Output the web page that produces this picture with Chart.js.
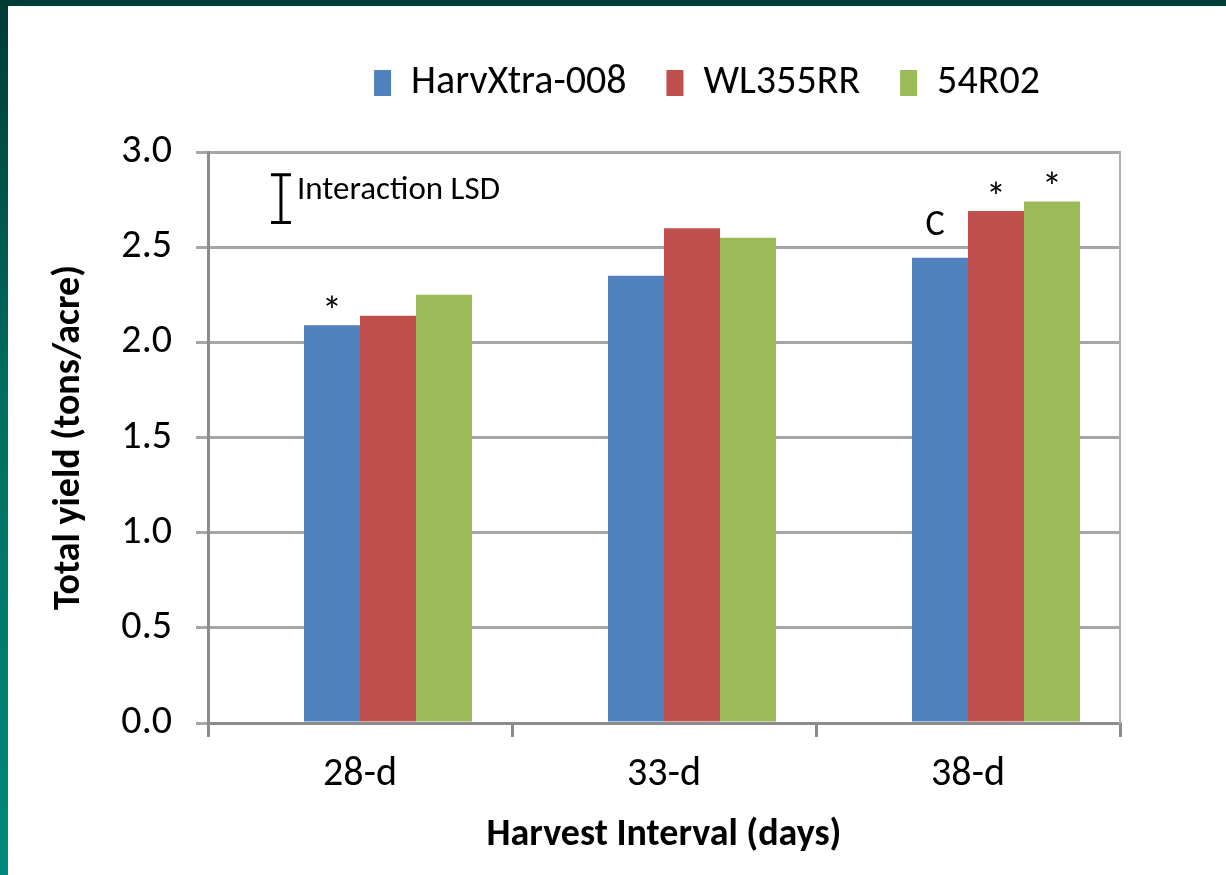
<!DOCTYPE html>
<html>
<head>
<meta charset="utf-8">
<script src="https://cdn.jsdelivr.net/npm/chart.js@4.4.1/dist/chart.umd.min.js"></script>
<style>
  html, body { margin: 0; padding: 0; background: #ffffff; overflow: hidden; }
  #wrap { position: relative; width: 1226px; height: 875px; }
  #topband { position: absolute; left: 0; top: 0; width: 1226px; height: 6px; background: #003b35; }
  #leftband { position: absolute; left: 0; top: 0; width: 8px; height: 875px; background: linear-gradient(to bottom, #003b35 0%, #006d61 45%, #008a7b 100%); }
</style>
</head>
<body>
<div id="wrap">
  <canvas id="c" width="1226" height="875"></canvas>
  <div id="topband"></div>
  <div id="leftband"></div>
</div>
<script>
// ---- data ----
const categories = ['28-d', '33-d', '38-d'];
const seriesNames = ['HarvXtra-008', 'WL355RR', '54R02'];
const emptySeries = [null, null, null];
const harvXtra = [2.09, 2.35, 2.445];
const wl355rr = [2.14, 2.60, 2.69];
const r54r02 = [2.25, 2.55, 2.74];
const harvXtraMarks = ['*', '', 'C'];
const wl355rrMarks = ['', '', '*'];
const r54r02Marks = ['', '', '*'];
const yTicks = [0, 0.5, 1.0, 1.5, 2.0, 2.5, 3.0];
const lsdValue = 0.25;
const lsdTop = 2.88;
const lsdCategoryPos = -0.26;
const lsdLabel = 'Interaction LSD';
const yTitle = 'Total yield (tons/acre)';
const xTitle = 'Harvest Interval (days)';

const FONT = "Carlito, Calibri, Lato, sans-serif";
const colors = ['#4f81bd', '#c0504d', '#9bbb59'];
const marks = [harvXtraMarks, wl355rrMarks, r54r02Marks];

const annotationPlugin = {
  id: 'annot',
  afterDatasetsDraw(chart) {
    const ctx = chart.ctx;
    const y = chart.scales.y, x = chart.scales.x;
    ctx.save();
    ctx.fillStyle = '#000';
    ctx.textAlign = 'center';
    ctx.textBaseline = 'alphabetic';
    marks.forEach((arr, si) => {
      const meta = chart.getDatasetMeta(si + 1);
      arr.forEach((txt, i) => {
        if (!txt) return;
        const bar = meta.data[i];
        const star = txt === '*';
        ctx.font = (star ? '40px ' : '36px ') + FONT;
        ctx.fillText(txt, bar.x + (star ? 0 : -5), bar.y - (star ? 0 : 23));
      });
    });
    // LSD bar
    const lx = x.getPixelForValue(lsdCategoryPos);
    const yt = y.getPixelForValue(lsdTop);
    const yb = y.getPixelForValue(lsdTop - lsdValue);
    ctx.strokeStyle = '#000';
    ctx.lineWidth = 3;
    ctx.beginPath();
    ctx.moveTo(lx, yt); ctx.lineTo(lx, yb);
    ctx.moveTo(lx - 10, yt); ctx.lineTo(lx + 10, yt);
    ctx.moveTo(lx - 10, yb); ctx.lineTo(lx + 10, yb);
    ctx.stroke();
    ctx.textAlign = 'left';
    ctx.textBaseline = 'alphabetic';
    ctx.font = '33px ' + FONT;
    ctx.fillText(lsdLabel, lx + 16, yt + 24);
    ctx.restore();
  }
};

const legendPlugin = {
  id: 'legendPlace',
  beforeInit(chart) {
    const orig = chart.legend.fit;
    chart.legend.fit = function() {
      orig.call(this);
      this.height = 152 - 23;
    };
  },
  afterLayout(chart) {
    chart.legend.left += 94;
    chart.legend.right += 94;
  }
};

new Chart(document.getElementById('c'), {
  type: 'bar',
  data: {
    labels: categories,
    datasets: [
      { label: '', data: emptySeries, backgroundColor: 'rgba(0,0,0,0)' },
      { label: seriesNames[0], data: harvXtra, backgroundColor: colors[0] },
      { label: seriesNames[1], data: wl355rr, backgroundColor: colors[1] },
      { label: seriesNames[2], data: r54r02, backgroundColor: colors[2] }
    ]
  },
  options: {
    responsive: false,
    animation: false,
    devicePixelRatio: 1,
    layout: { padding: { left: 0, right: 0, top: 23, bottom: 0 } },
    datasets: { bar: { categoryPercentage: 0.737, barPercentage: 1.0 } },
    plugins: {
      legend: {
        position: 'top',
        align: 'center',
        labels: {
          boxWidth: 17, boxHeight: 26, padding: 40,
          color: '#000',
          font: { family: FONT, size: 40 },
          filter: item => item.text !== ''
        }
      },
      tooltip: { enabled: false }
    },
    scales: {
      x: {
        grid: { offset: true, drawOnChartArea: false, drawTicks: true, tickLength: 14, tickColor: '#8c8c8c', lineWidth: 3 },
        border: { display: true, color: '#8c8c8c', width: 3 },
        ticks: { color: '#000', padding: 14, font: { family: FONT, size: 40 } },
        title: { display: true, text: xTitle, color: '#000', font: { family: FONT, size: 38, weight: 'bold' }, padding: { top: 0, bottom: 17 } },
        afterFit(s) { s.height = 875 - 723; }
      },
      y: {
        min: 0, max: 3,
        afterBuildTicks(s) { s.ticks = yTicks.map(v => ({ value: v })); },
        grid: { color: '#a6a6a6', lineWidth: 3, tickLength: 12 },
        border: { display: true, color: '#8c8c8c', width: 3 },
        ticks: { color: '#000', padding: 24, font: { family: FONT, size: 40 }, callback: v => Number(v).toFixed(1) },
        title: { display: true, text: yTitle, color: '#000', font: { family: FONT, size: 38, weight: 'bold' }, padding: { top: 47, bottom: 0 } },
        afterFit(s) { s.width = 208; }
      },
      yRight: {
        position: 'right',
        min: 0, max: 3,
        grid: { display: false },
        border: { display: true, color: '#b0b0b0', width: 2 },
        ticks: { display: false },
        afterFit(s) { s.width = 1226 - 1120; }
      }
    }
  },
  plugins: [annotationPlugin, legendPlugin]
});
</script>
</body>
</html>
